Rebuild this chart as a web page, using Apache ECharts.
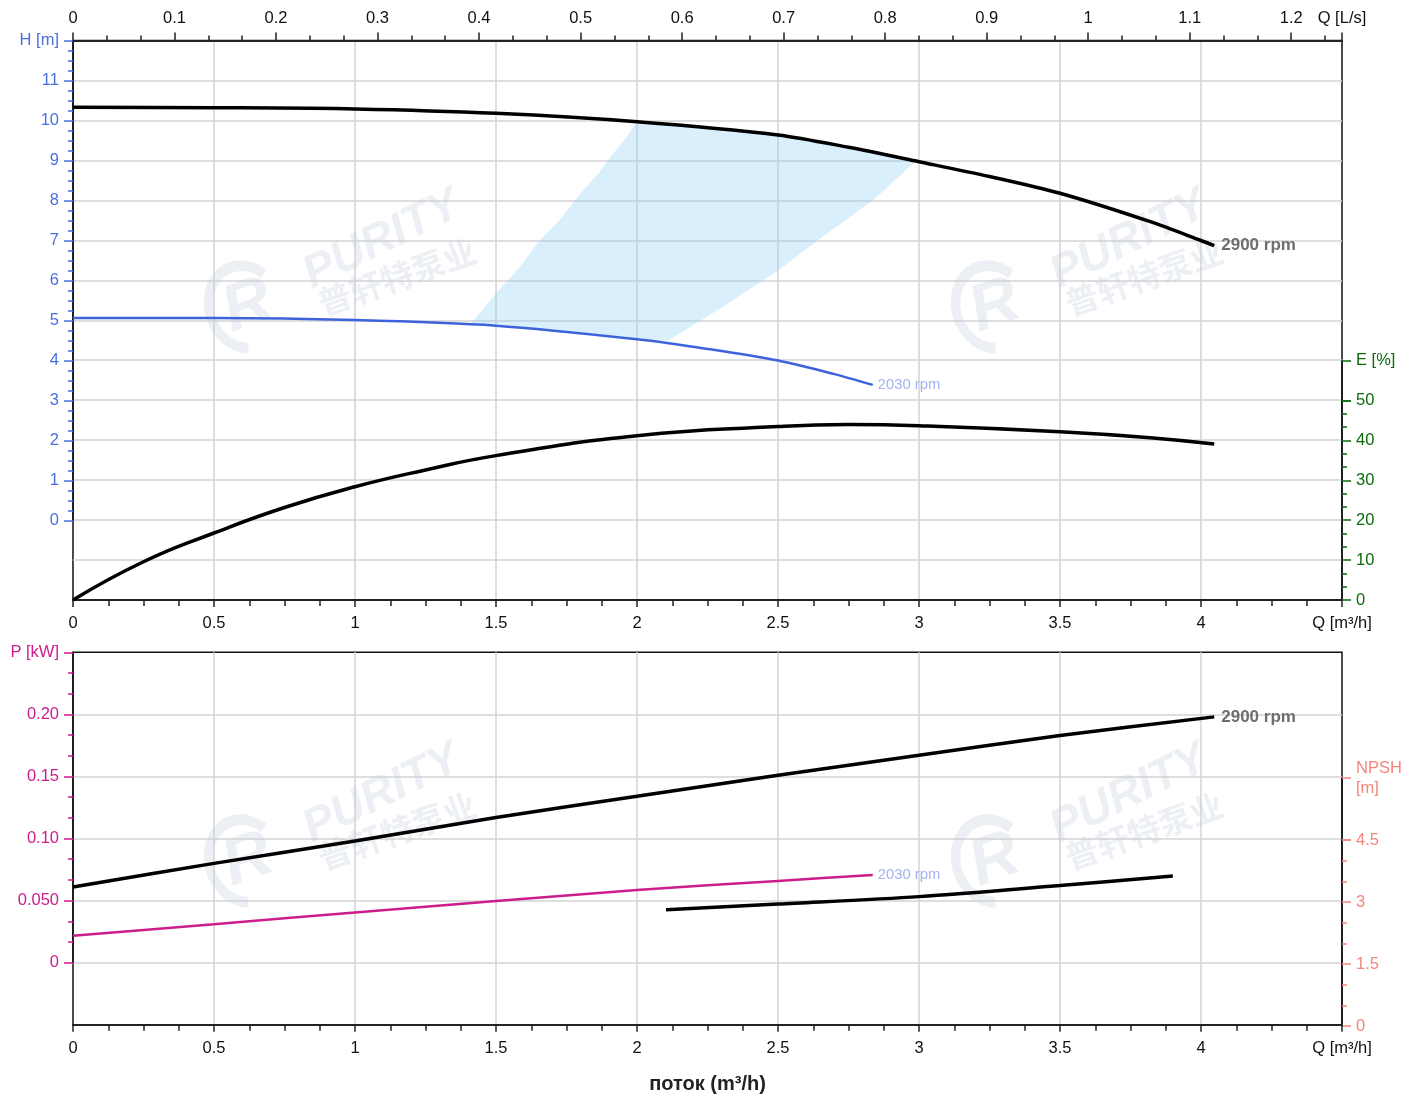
<!DOCTYPE html>
<html>
<head>
<meta charset="utf-8">
<script src="https://cdn.jsdelivr.net/npm/echarts@6/dist/echarts.min.js"></script>
<style>html,body{margin:0;padding:0;background:#fff}#c{width:1421px;height:1099px}</style>
</head>
<body>
<div id="c"></div>
<script>
// ---- data ----
const q2900H = [0, 0.5, 1, 1.5, 2, 2.5, 2.75, 3, 3.25, 3.5, 3.82, 4, 4.047];
const h2900  = [10.33, 10.32, 10.29, 10.18, 9.97, 9.64, 9.33, 8.97, 8.60, 8.18, 7.47, 7.00, 6.87];
const q2030H = [0, 0.5, 1, 1.5, 2, 2.25, 2.5, 2.7, 2.836];
const h2030  = [5.06, 5.06, 5.01, 4.87, 4.53, 4.29, 4.00, 3.66, 3.39];
const qEff   = [0, 0.25, 0.5, 0.75, 1, 1.25, 1.5, 2, 2.5, 2.75, 3, 3.5, 3.82, 4.047];
const eff    = [0, 9.6, 16.8, 23.2, 28.4, 32.6, 36.2, 41.2, 43.5, 44.0, 43.7, 42.2, 40.7, 39.1];
const q2900P = [0, 0.5, 1, 1.5, 2, 2.5, 3, 3.5, 4.047];
const p2900  = [0.061, 0.080, 0.098, 0.117, 0.134, 0.151, 0.167, 0.183, 0.198];
const q2030P = [0, 0.5, 1, 1.5, 2, 2.5, 2.836];
const p2030  = [0.0218, 0.031, 0.0405, 0.0497, 0.0585, 0.0659, 0.0707];
const qNpsh  = [2.103, 2.5, 3, 3.5, 3.9];
const npsh   = [2.81, 2.95, 3.13, 3.40, 3.63];
// operating region outline (Q m3/h, H m)
const regionQ = [1.414, 1.5, 1.58, 1.656, 1.73, 1.8, 1.86, 1.916, 1.96, 2.0, 2.25, 2.5, 2.75, 2.986, 2.838, 2.66, 2.5, 2.306, 2.111, 2.0, 1.75, 1.5, 1.414];
const regionH = [4.95, 5.68, 6.30, 7.01, 7.55, 8.18, 8.65, 9.18, 9.55, 9.97, 9.83, 9.64, 9.33, 8.97, 8.01, 7.10, 6.25, 5.35, 4.50, 4.53, 4.72, 4.87, 4.93];
// tick label specials
const topAxisName = 'Q [L/s]';
const bottomAxisName = 'Q [m³/h]';
const xTitle = 'поток (m³/h)';

const pairs = (a, b) => a.map((v, i) => [v, b[i]]);

const FONT = 'Liberation Sans, Arial, sans-serif';
const FS = 16.5;
const GRID_C = '#d3d3d3';
const BLUE = '#4a6ee0';
const GREEN = '#0b6b0b';
const MAG = '#cc1d8a';
const SAL = '#f4857c';

const chart = echarts.init(document.getElementById('c'), null, {renderer: 'canvas'});

function hiddenX(gi) {
  return {type: 'value', gridIndex: gi, min: 0, max: 4.5, show: false};
}
function qAxis(gi) {
  return {
    type: 'value', gridIndex: gi, position: 'bottom', min: 0, max: 4.5, interval: 0.5,
    axisLine: {show: true, onZero: false, lineStyle: {color: '#222', width: 2}},
    axisTick: {show: true, length: 7, lineStyle: {color: '#222', width: 1.5}},
    minorTick: {show: true, splitNumber: 4, length: 6, lineStyle: {color: '#222', width: 1.5}},
    splitLine: {show: true, showMinLine: false, showMaxLine: false, lineStyle: {color: GRID_C, width: 1.5}},
    axisLabel: {
      show: true, interval: 0, margin: 15, color: '#111', fontSize: FS, fontFamily: FONT,
      showMaxLabel: true, showMinLabel: true,
      formatter: v => (Math.abs(v - 4.5) < 1e-6 ? bottomAxisName : String(+v.toFixed(2)))
    }
  };
}
function rightAxis(gi, min, max, interval, color, minor, fmt) {
  return {
    type: 'value', gridIndex: gi, position: 'right', min: min, max: max, interval: interval,
    axisLine: {show: true, onZero: false, lineStyle: {color: '#111', width: 1.5}},
    axisTick: {show: true, length: 9, lineStyle: {color: color, width: 1.5}},
    minorTick: {show: minor, splitNumber: 3, length: 5, lineStyle: {color: color, width: 1.5}},
    splitLine: {show: false},
    axisLabel: {show: true, margin: 14, color: color, fontSize: FS, fontFamily: FONT, lineHeight: 20,
      showMinLabel: true, showMaxLabel: true, formatter: fmt}
  };
}

const wmColor = 'rgba(196,206,222,0.32)';
function watermark(dx, dy) {
  return [
    {type: 'arc', x: 245 + dx, y: 307 + dy, scaleX: 0.85, rotation: 0.35, z: 1, silent: true,
     shape: {cx: 0, cy: 0, r: 42, startAngle: Math.PI * 0.6, endAngle: Math.PI * 1.8},
     style: {stroke: wmColor, lineWidth: 11, fill: null}},
    {type: 'text', x: 248 + dx, y: 307 + dy, rotation: 0.35, z: 1, silent: true,
     style: {text: 'R', font: 'italic bold 66px ' + FONT, fill: wmColor, align: 'center', verticalAlign: 'middle'}},
    {type: 'text', x: 382 + dx, y: 240 + dy, rotation: 0.46, z: 1, silent: true,
     style: {text: 'PURITY', font: 'italic bold 46px ' + FONT, fill: wmColor, align: 'center', verticalAlign: 'middle'}},
    {type: 'text', x: 397 + dx, y: 277 + dy, rotation: 0.34, z: 1, silent: true,
     style: {text: '普轩特泵业', font: 'bold 33px "Noto Sans CJK SC"', fill: wmColor, align: 'center', verticalAlign: 'middle'}}
  ];
}

const option = {
  animation: false,
  backgroundColor: '#fff',
  textStyle: {fontFamily: FONT},
  graphic: [].concat(watermark(0, 0), watermark(747, 0), watermark(0, 554), watermark(747, 554)),
  grid: [
    {left: 73, top: 40.5, width: 1269, height: 559.5, show: true, borderColor: '#111', borderWidth: 1.5, backgroundColor: 'transparent'},
    {left: 73, top: 40.5, width: 1269, height: 480},
    {left: 73, top: 400.6, width: 1269, height: 199.4},
    {left: 73, top: 652.3, width: 1269, height: 372.5, show: true, borderColor: '#111', borderWidth: 1.5, backgroundColor: 'transparent'},
    {left: 73, top: 652.3, width: 1269, height: 310.4},
    {left: 73, top: 840, width: 1269, height: 186},
    {left: 73, top: 360.7, width: 1269, height: 39.9},
    {left: 73, top: 778, width: 1269, height: 62}
  ],
  xAxis: [
    qAxis(0),
    {
      type: 'value', gridIndex: 0, position: 'top', min: 0, max: 1.25, interval: 0.1,
      axisLine: {show: true, onZero: false, lineStyle: {color: '#222', width: 2}},
      axisTick: {show: true, length: 8, lineStyle: {color: '#222', width: 1.5}},
      minorTick: {show: true, splitNumber: 3, length: 5, lineStyle: {color: '#222', width: 1.5}},
      splitLine: {show: false},
      axisLabel: {
        show: true, interval: 0, margin: 14, color: '#111', fontSize: FS, fontFamily: FONT,
        showMaxLabel: true,
        formatter: v => (Math.abs(v - 1.25) < 1e-6 ? topAxisName : String(+v.toFixed(2)))
      }
    },
    hiddenX(1),
    hiddenX(2),
    Object.assign(qAxis(3), {
      name: xTitle, nameLocation: 'middle', nameGap: 50,
      nameTextStyle: {fontSize: 20, fontWeight: 'bold', color: '#222', fontFamily: FONT}
    }),
    hiddenX(4),
    hiddenX(5),
    hiddenX(6),
    hiddenX(7)
  ],
  yAxis: [
    {type: 'value', gridIndex: 0, min: -2, max: 12, interval: 1,
     axisLine: {show: false, onZero: false}, axisTick: {show: false}, axisLabel: {show: false},
     splitLine: {show: true, showMinLine: false, showMaxLine: false, lineStyle: {color: GRID_C, width: 1.5}}},
    {
      type: 'value', gridIndex: 1, position: 'left', min: 0, max: 12, interval: 1,
      axisLine: {show: true, onZero: false, lineStyle: {color: '#111', width: 1.5}},
      axisTick: {show: true, length: 9, lineStyle: {color: BLUE, width: 1.5}},
      minorTick: {show: true, splitNumber: 4, length: 5, lineStyle: {color: BLUE, width: 1.5}},
      splitLine: {show: false},
      axisLabel: {show: true, margin: 14, color: BLUE, fontSize: FS, fontFamily: FONT,
        formatter: v => (v === 12 ? 'H [m]' : String(v))}
    },
    rightAxis(2, 0, 50, 10, GREEN, true, v => String(v)),
    {type: 'value', gridIndex: 3, min: 0, max: 1, show: false},
    {
      type: 'value', gridIndex: 4, position: 'left', min: 0, max: 0.25, interval: 0.05,
      axisLine: {show: true, onZero: false, lineStyle: {color: '#111', width: 1.5}},
      axisTick: {show: true, length: 9, lineStyle: {color: MAG, width: 1.5}},
      minorTick: {show: true, splitNumber: 3, length: 5, lineStyle: {color: MAG, width: 1.5}},
      splitLine: {show: true, showMaxLine: false, lineStyle: {color: GRID_C, width: 1.5}},
      axisLabel: {show: true, margin: 14, color: MAG, fontSize: FS, fontFamily: FONT,
        formatter: v => {
          if (Math.abs(v - 0.25) < 1e-6) return 'P [kW]';
          if (v === 0) return '0';
          if (Math.abs(v - 0.05) < 1e-6) return '0.050';
          return v.toFixed(2);
        }}
    },
    rightAxis(5, 0, 4.5, 1.5, SAL, true, v => String(v)),
    rightAxis(6, 50, 60, 10, GREEN, false, v => (v === 60 ? 'E [%]' : '')),
    rightAxis(7, 4.5, 6, 1.5, SAL, false, v => (v === 6 ? 'NPSH\n[m]' : ''))
  ],
  series: [
    {
      name: 'region', type: 'custom', xAxisIndex: 2, yAxisIndex: 1, z: 2,
      data: [[0, 0]], silent: true,
      renderItem: (params, api) => {
        const pts = regionQ.map((q, i) => api.coord([q, regionH[i]]));
        return {type: 'polygon', shape: {points: pts}, style: {fill: 'rgba(140,205,245,0.33)', stroke: null}};
      }
    },
    {
      name: 'H 2900', type: 'line', xAxisIndex: 2, yAxisIndex: 1, z: 5,
      data: pairs(q2900H, h2900), smooth: 0.3, symbol: 'none',
      lineStyle: {color: '#000', width: 3.5},
      endLabel: {show: true, formatter: '2900 rpm', distance: 7, color: '#6e6e6e', fontSize: 17, fontWeight: 'bold', fontFamily: FONT}
    },
    {
      name: 'H 2030', type: 'line', xAxisIndex: 2, yAxisIndex: 1, z: 5,
      data: pairs(q2030H, h2030), smooth: 0.3, symbol: 'none',
      lineStyle: {color: '#3d63dc', width: 2.5},
      endLabel: {show: true, formatter: '2030 rpm', distance: 5, color: '#a3b2f2', fontSize: 14.8, fontFamily: FONT}
    },
    {
      name: 'Eff', type: 'line', xAxisIndex: 3, yAxisIndex: 2, z: 5,
      data: pairs(qEff, eff), smooth: 0.5, symbol: 'none',
      lineStyle: {color: '#000', width: 3.5}
    },
    {
      name: 'P 2900', type: 'line', xAxisIndex: 5, yAxisIndex: 4, z: 5,
      data: pairs(q2900P, p2900), smooth: 0.3, symbol: 'none',
      lineStyle: {color: '#000', width: 3.5},
      endLabel: {show: true, formatter: '2900 rpm', distance: 7, color: '#6e6e6e', fontSize: 17, fontWeight: 'bold', fontFamily: FONT}
    },
    {
      name: 'P 2030', type: 'line', xAxisIndex: 5, yAxisIndex: 4, z: 5,
      data: pairs(q2030P, p2030), smooth: 0.3, symbol: 'none',
      lineStyle: {color: MAG, width: 2.5},
      endLabel: {show: true, formatter: '2030 rpm', distance: 5, color: '#a3b2f2', fontSize: 14.8, fontFamily: FONT}
    },
    {
      name: 'NPSH', type: 'line', xAxisIndex: 6, yAxisIndex: 5, z: 5,
      data: pairs(qNpsh, npsh), smooth: 0.3, symbol: 'none',
      lineStyle: {color: '#000', width: 3.5}
    }
  ]
};
chart.setOption(option);
</script>
</body>
</html>
